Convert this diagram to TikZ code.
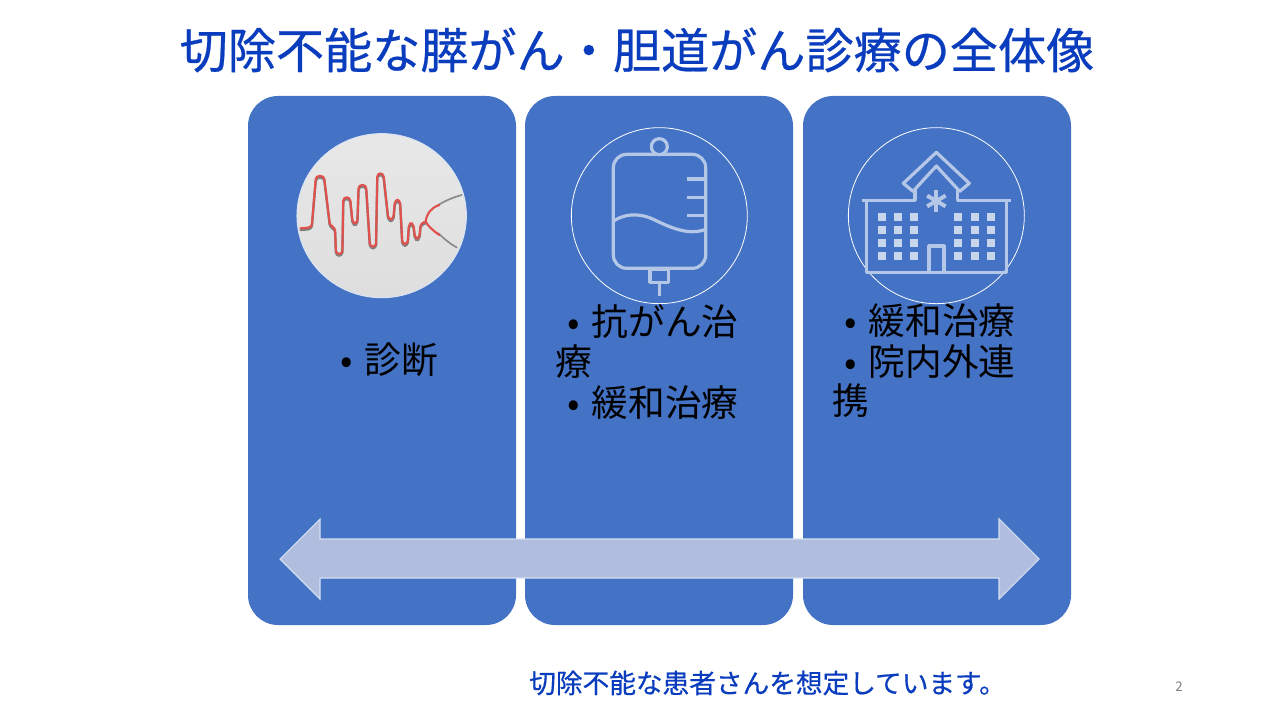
\documentclass[tikz,border=0pt]{standalone}
\usepackage{fontspec}
\setmainfont{Noto Sans CJK JP}
\newfontfamily\heavyfont[FakeBold=0.5]{Noto Sans CJK JP}
\usetikzlibrary{calc}
\definecolor{cardblue}{HTML}{4472C4}
\definecolor{titleblue}{HTML}{0A3CBE}
\definecolor{iconblue}{HTML}{B4C7E7}
\definecolor{arrowfill}{HTML}{B0BDDF}
\definecolor{arrowline}{HTML}{D5DFF2}
\definecolor{wavered}{HTML}{E0504C}
\newcommand{\bul}{\makebox[1em][c]{•}}
\tikzset{
  card/.style={fill=cardblue,draw=none,rounded corners=22.5pt},
  bodytext/.style={anchor=north west,inner sep=0pt,outer sep=0pt,align=left,text=black,
    font=\fontsize{27.5}{30.6}\selectfont},
  ring/.style={draw=white,line width=0.6pt,fill=none},
  icon/.style={draw=iconblue,line width=2.4pt,line join=round},
  win/.style={fill=iconblue!75!white,draw=none},
}
\begin{document}
\begin{tikzpicture}[x=0.75pt,y=-0.75pt]
\useasboundingbox (0,0) rectangle (1280,720);
\fill[white] (0,0) rectangle (1280,720);
% title
\node[text=titleblue,font=\heavyfont\fontsize{36.1}{40}\selectfont,inner sep=0pt] (title) at (637,50) {切除不能な膵がん・胆道がん診療の全体像};
% cards
\path[card] (248,96) rectangle (516,625);
\path[card] (525,96) rectangle (793,625);
\path[card] (803,96) rectangle (1071,625);
% icon 1 : waveform
\begin{scope}[shift={(280,120)},x=0.25pt,y=-0.25pt]
  \shade[top color=white!91!black,bottom color=white!87!black] (305,287) ellipse [x radius=254,y radius=246];
  \draw[white!80!cardblue,line width=0.8pt] (305,287) ellipse [x radius=254,y radius=246];
  \begin{scope}[line join=round,line cap=round]
  \foreach \w/\c/\dy in {1.8pt/black!50/5,1.6pt/wavered/0}{
  \draw[line width=\w,draw=\c,rounded corners=2.5pt] (62,325+\dy) -- (95,322+\dy) -- (108,168+\dy) -- (132,168+\dy) -- (150,318+\dy) -- (165,322+\dy) -- (168,402+\dy) -- (187,402+\dy) -- (190,232+\dy) -- (210,232+\dy) -- (218,310+\dy) -- (232,310+\dy) -- (236,195+\dy) -- (258,195+\dy) -- (270,380+\dy) -- (288,380+\dy) -- (292,160+\dy) -- (310,160+\dy) -- (325,298+\dy) -- (340,298+\dy) -- (345,240+\dy) -- (360,240+\dy) -- (367,372+\dy) -- (383,372+\dy) -- (387,310+\dy) -- (400,310+\dy) -- (405,355+\dy) -- (418,355+\dy) -- (422,310+\dy) -- (437,305+\dy);
  }
  \draw[line width=1.3pt,draw=black!45] (470,258) .. controls (495,242) and (520,232) .. (545,225);
  \draw[line width=1.3pt,draw=black!45] (475,340) .. controls (495,358) and (510,372) .. (530,382);
  \draw[line width=1.6pt,draw=wavered] (437,305) .. controls (440,280) and (455,262) .. (478,255);
  \draw[line width=1.6pt,draw=wavered] (437,305) .. controls (445,320) and (460,332) .. (478,345);
  \end{scope}
\end{scope}
% icon 2 : drip bag
\begin{scope}[shift={(560,120)},x=0.25pt,y=-0.25pt]
  \draw[ring] (298,287) circle [radius=264];
  \draw[icon,rounded corners=10pt] (160,103) rectangle (437,445);
  \draw[icon,fill=cardblue] (298,80) circle [radius=24];
  \draw[icon] (380,177) -- (437,177) (380,232) -- (437,232) (380,287) -- (437,287);
  \draw[icon] (162,302) .. controls (190,285) and (230,275) .. (280,298) .. controls (330,322) and (385,348) .. (437,328);
  \draw[icon] (270,447) rectangle (325,487);
  \draw[icon] (298,487) -- (298,528);
\end{scope}
% icon 3 : hospital
\begin{scope}[shift={(835,120)},x=0.25pt,y=-0.25pt]
  \draw[ring] (304,287) circle [radius=264];
  \draw[icon] (80,241) -- (240,241) -- (240,208) (368,208) -- (368,241) -- (528,241);
  \draw[icon] (304,97) -- (205,190) -- (234,214) -- (304,138) -- (374,214) -- (403,190) -- cycle;
  \draw[icon] (95,241) -- (95,458) -- (515,458) -- (515,241);
  \draw[icon] (282,458) -- (282,378) -- (327,378) -- (327,458);
  \foreach \a in {0,60,120}{
    \draw[icon,line width=3pt] ($(304,243)+(\a+90:32)$) -- ($(304,243)+(\a+270:32)$);
  }
  \foreach \x in {140,189,238,370,420,469}
    \foreach \y in {291,330,368,407}
      \fill[win] (\x-12,\y-12) rectangle (\x+12,\y+12);
\end{scope}
% body text
\node[bodytext] (col1) at (328,343) {\bul 診断};
\node[bodytext] (col2) at (555,304) {\hspace*{0pt}\bul 抗がん治\\療\\\bul 緩和治療};
\node[bodytext] (col3) at (832,304) {\hspace*{0pt}\bul 緩和治療\\\bul 院内外連\\[-1.5pt]携};
% arrow
\draw[fill=arrowfill,draw=arrowline,line width=0.8pt,line join=miter]
  (280,559) -- (320,519) -- (320,539) -- (999,539) -- (999,519) -- (1039,559)
  -- (999,599) -- (999,578) -- (320,578) -- (320,599) -- cycle;
% footer
\node[text=titleblue,font=\heavyfont\fontsize{20}{24}\selectfont,inner sep=0pt,anchor=west] (note) at (529,683) {切除不能な患者さんを想定しています。};
\node[text=black!50,font=\fontsize{10}{12}\selectfont,inner sep=0pt] (page) at (1179,687) {2};
\end{tikzpicture}
\end{document}
